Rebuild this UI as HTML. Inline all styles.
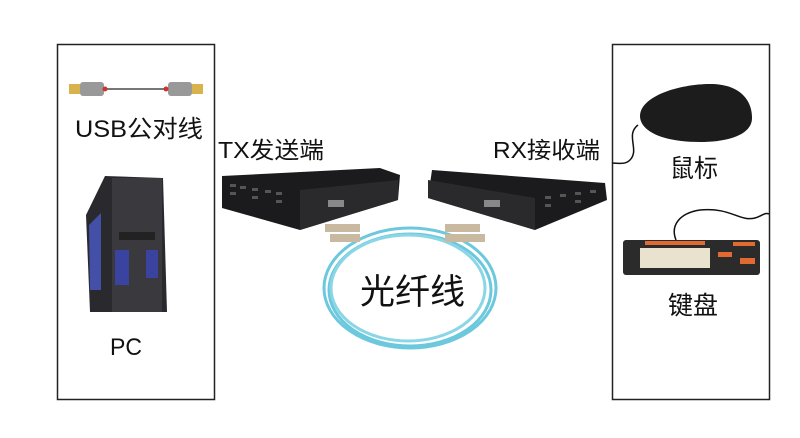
<!DOCTYPE html>
<html><head><meta charset="utf-8"><style>
html,body{margin:0;padding:0;background:#fff;width:800px;height:438px;overflow:hidden}
svg text{font-family:"Liberation Sans","Noto Sans CJK SC",sans-serif;fill:#111}
</style></head><body>
<svg width="800" height="438" viewBox="0 0 800 438" xmlns="http://www.w3.org/2000/svg">
<rect x="57.5" y="44.5" width="157" height="355" fill="none" stroke="#222" stroke-width="1.5"/>
<rect x="612.5" y="44.5" width="157" height="355" fill="none" stroke="#222" stroke-width="1.5"/>
<!-- USB cable -->
<line x1="104" y1="89" x2="168" y2="89" stroke="#777" stroke-width="2"/>
<rect x="69" y="84" width="11" height="10" fill="#d8b24a"/>
<rect x="80" y="82" width="24" height="14" rx="3" fill="#999"/>
<rect x="192" y="84" width="11" height="10" fill="#d8b24a"/>
<rect x="168" y="82" width="24" height="14" rx="3" fill="#999"/>
<circle cx="105" cy="89" r="2.5" fill="#c33"/><circle cx="166" cy="89" r="2.5" fill="#c33"/>
<text x="75" y="137" font-size="24" textLength="128" lengthAdjust="spacingAndGlyphs">USB公对线</text>
<!-- PC -->
<polygon points="86,215 105,176 163,178 167,312 90,312" fill="#2a2a2e"/>
<rect x="112" y="178" width="50" height="134" fill="#3a3a3e"/>
<rect x="119" y="232" width="36" height="8" fill="#222"/>
<polygon points="89,225 101,213 101,290 90,290" fill="#4450a8"/>
<rect x="115" y="250" width="14" height="35" fill="#3a44a0"/>
<rect x="146" y="250" width="12" height="28" fill="#3a44a0"/>
<text x="110" y="355" font-size="24" textLength="32" lengthAdjust="spacingAndGlyphs">PC</text>
<!-- TX -->
<text x="218" y="158" font-size="23" textLength="106" lengthAdjust="spacingAndGlyphs">TX发送端</text>
<polygon points="222,176 380,168 400,175 398,200 300,230 222,208" fill="#1b1b1d"/>
<polygon points="300,190 398,180 398,200 300,230" fill="#2a2a2c"/>
<g fill="#555"><rect x="230" y="184" width="6" height="3"/><rect x="240" y="186" width="6" height="3"/><rect x="252" y="188" width="6" height="3"/><rect x="265" y="190" width="6" height="3"/><rect x="276" y="192" width="6" height="3"/><rect x="230" y="192" width="6" height="3"/><rect x="252" y="196" width="6" height="3"/><rect x="276" y="200" width="6" height="3"/></g>
<rect x="328" y="200" width="16" height="7" fill="#888"/>
<!-- RX -->
<text x="493" y="158" font-size="23" textLength="107" lengthAdjust="spacingAndGlyphs">RX接收端</text>
<polygon points="432,170 605,183 607,200 535,230 428,198" fill="#1b1b1d"/>
<polygon points="428,180 535,198 535,230 428,198" fill="#2a2a2c"/>
<g fill="#555"><rect x="545" y="196" width="6" height="3"/><rect x="560" y="194" width="6" height="3"/><rect x="575" y="192" width="6" height="3"/><rect x="590" y="190" width="6" height="3"/><rect x="545" y="204" width="6" height="3"/><rect x="575" y="200" width="6" height="3"/></g>
<rect x="484" y="200" width="16" height="7" fill="#888"/>
<!-- fiber -->
<g fill="none" stroke="#6cc8dc" stroke-width="3">
<ellipse cx="410" cy="288" rx="86" ry="60"/>
<ellipse cx="410" cy="290" rx="81" ry="56"/>
<ellipse cx="408" cy="288" rx="77" ry="53" stroke="#8ad6e6"/>
</g>
<rect x="325" y="224" width="35" height="8" fill="#c9b9a0"/><rect x="330" y="234" width="30" height="8" fill="#c9b9a0"/>
<rect x="445" y="224" width="35" height="8" fill="#c9b9a0"/><rect x="445" y="234" width="40" height="8" fill="#c9b9a0"/>
<text x="360" y="304" font-size="35" textLength="105" lengthAdjust="spacingAndGlyphs">光纤线</text>
<!-- mouse -->
<path d="M640,116 C640,96 680,84 710,84 C740,84 752,100 752,118 C752,134 730,142 700,142 C660,142 640,130 640,116 Z" fill="#1c1c1c"/>
<path d="M638,125 C625,135 640,150 630,160 C625,165 618,163 612,163" fill="none" stroke="#111" stroke-width="1.5"/>
<text x="670" y="177" font-size="25" textLength="48" lengthAdjust="spacingAndGlyphs">鼠标</text>
<!-- keyboard -->
<path d="M676,240 C670,225 680,213 700,210 C730,207 740,222 755,218 C762,216 765,212 769,214" fill="none" stroke="#111" stroke-width="1.5"/>
<rect x="623" y="240" width="137" height="35" rx="3" fill="#2b2b2b"/>
<rect x="640" y="248" width="70" height="20" fill="#e8e2cf"/>
<rect x="645" y="241" width="60" height="4" fill="#e06a30"/>
<rect x="733" y="242" width="22" height="4" fill="#e06a30"/>
<rect x="740" y="258" width="15" height="6" fill="#e06a30"/>
<rect x="718" y="252" width="14" height="5" fill="#e06a30"/>
<text x="668" y="314" font-size="25" textLength="50" lengthAdjust="spacingAndGlyphs">键盘</text>
</svg>
</body></html>
